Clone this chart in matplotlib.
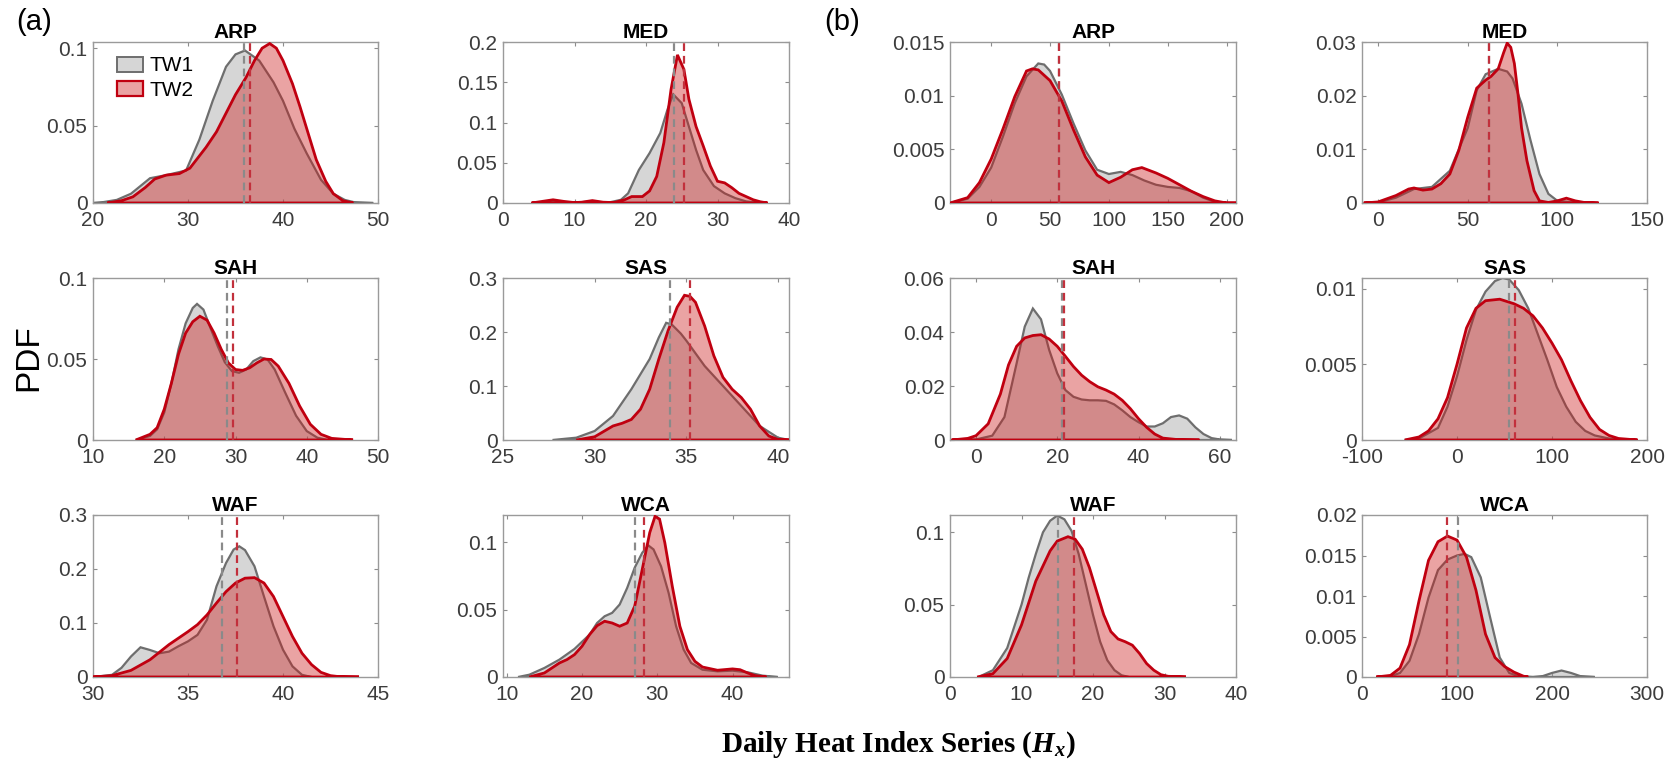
import numpy as np
import matplotlib.pyplot as plt
from matplotlib.patches import Patch
from matplotlib.ticker import FuncFormatter

plt.rcParams['font.family'] = ['Liberation Sans', 'DejaVu Sans']
plt.rcParams['mathtext.fontset'] = 'custom'
plt.rcParams['mathtext.it'] = 'Liberation Serif:italic:bold'
plt.rcParams['mathtext.rm'] = 'Liberation Serif:bold'

# kernel density curves, (Hx value, density) pairs, TW1 and TW2
# (a) regions
arp_a_tw1 = [(20, 0), (21, 0.0005), (22.5, 0.002), (24, 0.006), (25, 0.011), (26, 0.016), (27.7, 0.018),
             (29.8, 0.021), (31.2, 0.041), (32.6, 0.066), (34, 0.088), (35, 0.096), (36, 0.0985), (37.5, 0.092),
             (39, 0.078), (40, 0.066), (41.2, 0.048), (42.5, 0.032), (44, 0.015), (45.3, 0.006), (46.5, 0.002),
             (47.5, 0.0005), (49.5, 0)]
arp_a_tw2 = [(21.5, 0), (23, 0.0015), (24.2, 0.004), (25.5, 0.01), (26.5, 0.0155), (27.7, 0.018), (29.1, 0.019),
             (30.2, 0.0225), (31.9, 0.036), (33, 0.046), (34, 0.058), (35, 0.07), (36.1, 0.081), (37, 0.092),
             (37.8, 0.1), (38.6, 0.103), (39.3, 0.1), (40, 0.092), (41, 0.077), (41.8, 0.062), (42.7, 0.044),
             (43.5, 0.028), (44.5, 0.014), (45.3, 0.006), (46.3, 0.0015), (47.4, 0)]
med_a_tw1 = [(4, 0), (5.5, 0.001), (7, 0.002), (8.5, 0.001), (10, 0.0005), (11, 0.001), (12.5, 0.002), (14, 0.0008),
             (15, 0.001), (16.5, 0.004), (17.5, 0.012), (19, 0.041), (20.5, 0.062), (22, 0.087), (23, 0.116),
             (23.8, 0.135), (25, 0.124), (26, 0.095), (27, 0.066), (28, 0.041), (29.5, 0.021), (31, 0.012),
             (32.5, 0.006), (34, 0.002), (36, 0)]
med_a_tw2 = [(4, 0), (5.5, 0.002), (7, 0.004), (8.5, 0.002), (10, 0.0005), (11, 0.001), (12.5, 0.003), (14, 0.001),
             (15.5, 0.0005), (17, 0.004), (18, 0.008), (19.5, 0.008), (20.5, 0.015), (21.5, 0.033), (22.5, 0.075),
             (23.5, 0.141), (24.4, 0.184), (25.3, 0.166), (26, 0.129), (27, 0.095), (28, 0.071), (29, 0.046),
             (30, 0.027), (31, 0.025), (32, 0.019), (33, 0.012), (34, 0.008), (35, 0.004), (36, 0.0015), (37, 0)]
sah_a_tw1 = [(16, 0), (18, 0.0025), (19, 0.0066), (20, 0.017), (21, 0.035), (22, 0.056), (23, 0.072), (24, 0.0815),
             (24.6, 0.084), (25.5, 0.0805), (26.5, 0.069), (27.5, 0.058), (28.5, 0.048), (29.5, 0.0425),
             (30.5, 0.0415), (31.5, 0.0435), (32.5, 0.0487), (33.5, 0.051), (34.5, 0.0497), (35.5, 0.0435),
             (37, 0.029), (38.5, 0.015), (40, 0.0055), (41.5, 0.0014), (43, 0)]
sah_a_tw2 = [(16, 0), (18, 0.0035), (19, 0.0076), (20, 0.019), (21, 0.035), (22, 0.053), (23, 0.066), (24, 0.073),
             (25, 0.0764), (26, 0.074), (27, 0.066), (28, 0.056), (29, 0.0476), (30, 0.0435), (31, 0.043),
             (32, 0.0446), (33, 0.0476), (34, 0.05), (35, 0.0497), (36, 0.0456), (37.5, 0.035), (39, 0.021),
             (40.5, 0.0097), (42, 0.0035), (43.5, 0.001), (46.5, 0)]
sas_a_tw1 = [(27.7, 0), (29, 0.0043), (30, 0.0167), (31, 0.0445), (32, 0.094), (33, 0.15), (33.5, 0.19),
             (33.9, 0.217), (34.2, 0.214), (34.7, 0.197), (35, 0.184), (36, 0.137), (37, 0.1), (38, 0.063),
             (39, 0.026), (40, 0.0043), (40.6, 0)]
sas_a_tw2 = [(29, 0), (30, 0.006), (31, 0.026), (31.5, 0.031), (32, 0.038), (32.5, 0.057), (33, 0.094),
             (33.5, 0.15), (34, 0.202), (34.5, 0.246), (34.9, 0.268), (35.2, 0.266), (35.5, 0.255), (36, 0.211),
             (36.5, 0.156), (37, 0.116), (37.5, 0.094), (38, 0.0785), (38.5, 0.057), (39, 0.026), (39.5, 0.0074),
             (40, 0.001), (40.6, 0)]
waf_a_tw1 = [(30, 0), (31, 0.004), (31.5, 0.017), (32, 0.038), (32.5, 0.055), (33, 0.05), (33.5, 0.044),
             (34, 0.047), (34.5, 0.057), (35, 0.066), (35.5, 0.078), (36, 0.106), (36.5, 0.168), (37, 0.211),
             (37.4, 0.236), (37.7, 0.242), (38, 0.235), (38.5, 0.205), (39, 0.149), (39.5, 0.094), (40, 0.0505),
             (40.5, 0.0197), (41, 0.004), (41.5, 0)]
waf_a_tw2 = [(30, 0), (31, 0.0025), (32, 0.0123), (33, 0.032), (34, 0.06), (35, 0.084), (35.5, 0.097),
             (36, 0.115), (36.5, 0.137), (37, 0.158), (37.5, 0.174), (38, 0.183), (38.5, 0.184), (39, 0.174),
             (39.5, 0.149), (40, 0.112), (40.5, 0.075), (41, 0.044), (41.5, 0.023), (42, 0.0086), (42.5, 0.0025),
             (43, 0.0005), (44, 0)]
wca_a_tw1 = [(11.5, 0), (13, 0.0017), (15, 0.0067), (17, 0.0129), (19, 0.0208), (21, 0.0314), (22, 0.04),
             (23, 0.045), (24, 0.0475), (25, 0.0537), (26, 0.066), (27, 0.081), (28, 0.092), (28.8, 0.0975),
             (29.5, 0.0945), (30.5, 0.082), (31.5, 0.0624), (32.5, 0.0376), (33.5, 0.0203), (34.5, 0.0104),
             (36, 0.0054), (38, 0.0042), (40, 0.0047), (42, 0.0035), (44, 0.001), (46, 0)]
wca_a_tw2 = [(13, 0), (15, 0.003), (16, 0.0067), (17, 0.0104), (18, 0.0129), (19, 0.0166), (20, 0.0228),
             (21, 0.0314), (22, 0.038), (23, 0.0413), (24, 0.04), (25, 0.0376), (26, 0.04), (27, 0.0525),
             (28, 0.0797), (29, 0.107), (29.7, 0.119), (30.3, 0.117), (31, 0.0995), (32, 0.067), (33, 0.0376),
             (34, 0.0203), (35, 0.0116), (36, 0.0074), (38, 0.005), (40, 0.006), (41, 0.0054), (42, 0.003),
             (43, 0.001), (44.5, 0)]

# (b) regions
arp_b_tw1 = [(-35, 0), (-20, 0.0004), (-10, 0.0015), (0, 0.0033), (10, 0.0062), (20, 0.0093), (30, 0.0118),
             (40, 0.013), (45, 0.0129), (50, 0.0123), (60, 0.0101), (70, 0.0074), (80, 0.0049), (90, 0.0031),
             (100, 0.0027), (110, 0.0029), (120, 0.0026), (130, 0.0021), (140, 0.0017), (150, 0.0015),
             (160, 0.0014), (170, 0.0011), (180, 0.0005), (190, 0.0001), (200, 0)]
arp_b_tw2 = [(-35, 0), (-20, 0.0005), (-10, 0.0019), (0, 0.0041), (10, 0.0069), (20, 0.0099), (30, 0.0123),
             (35, 0.0125), (40, 0.0124), (50, 0.0114), (60, 0.0095), (70, 0.0068), (80, 0.0043), (90, 0.0026),
             (100, 0.0019), (110, 0.0024), (120, 0.0031), (128, 0.0033), (140, 0.0028), (150, 0.0023),
             (160, 0.0017), (170, 0.0011), (180, 0.0006), (190, 0.0002), (200, 0), (208, 0)]
med_b_tw1 = [(-8, 0), (0, 0.0001), (10, 0.001), (20, 0.0026), (30, 0.003), (40, 0.006), (50, 0.014), (55, 0.021),
             (60, 0.024), (67, 0.025), (72, 0.0245), (75, 0.0232), (80, 0.0185), (85, 0.0117), (90, 0.0054),
             (95, 0.0017), (100, 0.0004), (110, 0.0001), (120, 0)]
med_b_tw2 = [(-8, 0), (0, 0.0002), (10, 0.0014), (17, 0.0026), (20, 0.0028), (25, 0.0024), (30, 0.0026),
             (35, 0.0036), (40, 0.0054), (45, 0.0098), (50, 0.016), (55, 0.0214), (60, 0.0229), (63, 0.0236),
             (67, 0.025), (70, 0.028), (72, 0.0298), (74, 0.029), (76, 0.026), (78, 0.0204), (80, 0.014),
             (83, 0.0079), (87, 0.0023), (90, 0.0004), (95, 0.0001), (100, 0.0004), (105, 0.0009), (110, 0.0004),
             (115, 0.0001), (123, 0)]
sah_b_tw1 = [(-6, 0), (0, 0.0002), (4, 0.0016), (7, 0.0085), (10, 0.0284), (12, 0.042), (14, 0.0487),
             (16, 0.0447), (18, 0.0334), (20, 0.0247), (22, 0.0185), (24, 0.016), (26, 0.015), (28, 0.0147),
             (30, 0.0147), (32, 0.0145), (34, 0.0132), (36, 0.011), (38, 0.0085), (40, 0.0066), (42, 0.005),
             (44, 0.005), (46, 0.0062), (48, 0.0085), (50, 0.0091), (52, 0.0079), (54, 0.0047), (56, 0.0022),
             (58, 0.0007), (60, 0.0002), (63, 0)]
sah_b_tw2 = [(-6, 0), (-2, 0.0006), (0, 0.0016), (3, 0.006), (6, 0.017), (8, 0.0278), (10, 0.0347), (12, 0.0378),
             (14, 0.0387), (16, 0.039), (18, 0.0374), (20, 0.0347), (22, 0.031), (24, 0.0272), (26, 0.024),
             (28, 0.0216), (30, 0.0197), (32, 0.0185), (34, 0.017), (36, 0.0147), (38, 0.0116), (40, 0.0079),
             (42, 0.0047), (44, 0.0022), (46, 0.0007), (50, 0.0001), (55, 0)]
sas_b_tw1 = [(-55, 0), (-40, 0.0001), (-20, 0.0008), (-10, 0.0022), (0, 0.0042), (10, 0.0066), (20, 0.0086),
             (30, 0.0098), (40, 0.0105), (48, 0.0107), (55, 0.0106), (65, 0.0099), (75, 0.0087), (85, 0.007),
             (95, 0.0053), (105, 0.0035), (115, 0.0022), (125, 0.0012), (135, 0.0006), (145, 0.0003),
             (160, 0.0001), (185, 0)]
sas_b_tw2 = [(-55, 0), (-40, 0.0002), (-30, 0.0006), (-20, 0.0014), (-10, 0.0028), (0, 0.005), (10, 0.0074),
             (20, 0.0087), (30, 0.0092), (45, 0.0093), (60, 0.009), (70, 0.0087), (80, 0.0082), (90, 0.0074),
             (100, 0.0064), (110, 0.0053), (120, 0.0039), (130, 0.0026), (140, 0.0015), (150, 0.0007),
             (160, 0.0003), (170, 0.0001), (190, 0)]
waf_b_tw1 = [(4, 0), (6, 0.0047), (8, 0.02), (10, 0.05), (11, 0.0686), (12, 0.085), (13, 0.1), (14, 0.108),
             (15, 0.1116), (16, 0.109), (17, 0.101), (18, 0.085), (19, 0.064), (20, 0.043), (21, 0.0244),
             (22, 0.0116), (23, 0.0047), (24, 0.0012), (25, 0)]
waf_b_tw2 = [(3.8, 0), (6, 0.0023), (8, 0.0128), (10, 0.036), (12, 0.0663), (14, 0.0872), (15, 0.094),
             (16.5, 0.097), (17.5, 0.0953), (18.5, 0.0884), (19.5, 0.0756), (20.5, 0.0593), (21.5, 0.043),
             (22.5, 0.0314), (23.5, 0.0263), (24.5, 0.0244), (25.5, 0.022), (26.5, 0.0163), (27.5, 0.0093),
             (28.5, 0.0047), (29.5, 0.0016), (30.5, 0.0005), (33, 0)]
wca_b_tw1 = [(20, 0), (30, 0.0001), (40, 0.0005), (50, 0.002), (60, 0.0053), (70, 0.0098), (80, 0.0132),
             (90, 0.0145), (100, 0.015), (108, 0.0152), (115, 0.0148), (125, 0.0123), (135, 0.0073), (145, 0.0024),
             (155, 0.0005), (165, 0.0001), (180, 0), (190, 0.0001), (200, 0.0005), (210, 0.0008), (220, 0.0005),
             (230, 0.0001), (245, 0)]
wca_b_tw2 = [(15, 0), (30, 0.0002), (40, 0.0011), (50, 0.004), (60, 0.0094), (70, 0.0144), (80, 0.0167),
             (90, 0.0174), (100, 0.0169), (110, 0.0148), (120, 0.0107), (130, 0.0053), (140, 0.0024),
             (150, 0.0013), (160, 0.0006), (170, 0.0001), (175, 0)]

# mean Hx of TW1 / TW2 (dashed lines)
means_a = {'ARP': (35.9, 36.5), 'MED': (23.9, 25.35), 'SAH': (28.8, 29.6),
           'SAS': (34.1, 35.2), 'WAF': (36.8, 37.6), 'WCA': (27.0, 28.2)}
means_b = {'ARP': (57.3, 57.6), 'MED': (61.6, 62.0), 'SAH': (21.2, 21.6),
           'SAS': (54.4, 61.4), 'WAF': (15.06, 17.4), 'WCA': (100.7, 89.5)}

GRAY_LINE = '#6e6e6e'
GRAY_FILL = (0.62, 0.62, 0.62, 0.42)
RED_LINE = '#c00010'
RED_FILL = (0.80, 0.10, 0.10, 0.40)
TICK_COL = '#3c3c3c'
DASH = (0, (3.5, 2.2))

fig = plt.figure(figsize=(16.68, 7.69), dpi=100)
W, H = 1668, 769

col_px = [(93, 378), (503, 789), (950, 1236), (1362, 1647)]
row_px = [(42, 203), (278, 440), (515, 677)]

# name, tw1, tw2, means, xlim, xticks, ylim, yticks, (row, col)
panels = [
    ('ARP', arp_a_tw1, arp_a_tw2, means_a, (20, 50), [20, 30, 40, 50], 0.104, [0, 0.05, 0.1], 0, 0),
    ('MED', med_a_tw1, med_a_tw2, means_a, (0, 40), [0, 10, 20, 30, 40], 0.2, [0, 0.05, 0.1, 0.15, 0.2], 0, 1),
    ('ARP', arp_b_tw1, arp_b_tw2, means_b, (-35, 208), [0, 50, 100, 150, 200], 0.015, [0, 0.005, 0.01, 0.015], 0, 2),
    ('MED', med_b_tw1, med_b_tw2, means_b, (-9, 150), [0, 50, 100, 150], 0.03, [0, 0.01, 0.02, 0.03], 0, 3),
    ('SAH', sah_a_tw1, sah_a_tw2, means_a, (10, 50), [10, 20, 30, 40, 50], 0.1, [0, 0.05, 0.1], 1, 0),
    ('SAS', sas_a_tw1, sas_a_tw2, means_a, (25, 40.6), [25, 30, 35, 40], 0.3, [0, 0.1, 0.2, 0.3], 1, 1),
    ('SAH', sah_b_tw1, sah_b_tw2, means_b, (-6.4, 64), [0, 20, 40, 60], 0.06, [0, 0.02, 0.04, 0.06], 1, 2),
    ('SAS', sas_b_tw1, sas_b_tw2, means_b, (-100, 200), [-100, 0, 100, 200], 0.0107, [0, 0.005, 0.01], 1, 3),
    ('WAF', waf_a_tw1, waf_a_tw2, means_a, (30, 45), [30, 35, 40, 45], 0.3, [0, 0.1, 0.2, 0.3], 2, 0),
    ('WCA', wca_a_tw1, wca_a_tw2, means_a, (9.5, 47.5), [10, 20, 30, 40], 0.12, [0, 0.05, 0.1], 2, 1),
    ('WAF', waf_b_tw1, waf_b_tw2, means_b, (0, 40), [0, 10, 20, 30, 40], 0.112, [0, 0.05, 0.1], 2, 2),
    ('WCA', wca_b_tw1, wca_b_tw2, means_b, (0, 300), [0, 100, 200, 300], 0.02, [0, 0.005, 0.01, 0.015, 0.02], 2, 3),
]

fmt = FuncFormatter(lambda v, p: f'{v:g}')
axes = []
for name, tw1, tw2, means, xlim, xt, ytop, yt, r, c in panels:
    l, rr = col_px[c]
    t, b = row_px[r]
    ax = fig.add_axes([l / W, 1 - b / H, (rr - l) / W, (b - t) / H])
    x1, y1 = np.array(tw1).T
    x2, y2 = np.array(tw2).T
    ax.fill(x1, y1, facecolor=GRAY_FILL, edgecolor=GRAY_LINE, lw=1.6, zorder=2)
    ax.fill(x2, y2, facecolor=RED_FILL, edgecolor=RED_LINE, lw=2.0, zorder=3)
    m1, m2 = means[name]
    ax.axvline(m1, color='#8a8a8a', ls=DASH, lw=1.6, zorder=4)
    ax.axvline(m2, color='#c2303c', ls=DASH, lw=1.6, zorder=4)
    ax.set_xlim(*xlim)
    ax.set_ylim(0, ytop)
    ax.set_xticks(xt)
    ax.set_yticks(yt)
    ax.xaxis.set_major_formatter(fmt)
    ax.yaxis.set_major_formatter(fmt)
    ax.tick_params(direction='in', length=3, width=0.8, color='#8c8c8c', labelsize=15,
                   labelcolor=TICK_COL, top=True, right=True)
    ax.tick_params(axis='x', pad=6)
    ax.tick_params(axis='y', pad=4)
    for sp in ax.spines.values():
        sp.set_color('#9a9a9a')
        sp.set_linewidth(1.0)
    ax.set_title(name, fontsize=15, fontweight='bold', pad=3)
    axes.append(ax)

axes[0].legend(handles=[Patch(facecolor=GRAY_FILL, edgecolor=GRAY_LINE, lw=1.4, label='TW1'),
                        Patch(facecolor=RED_FILL, edgecolor=RED_LINE, lw=1.6, label='TW2')],
               loc='upper left', bbox_to_anchor=(0.085, 0.91), frameon=False, fontsize=15,
               handlelength=1.25, handleheight=0.75, handletextpad=0.3, labelspacing=0.25,
               borderpad=0, borderaxespad=0)

fig.text(34 / W, 1 - 22 / H, '(a)', fontsize=21, ha='center', va='center')
fig.text(842 / W, 1 - 22 / H, '(b)', fontsize=21, ha='center', va='center')
fig.text(29 / W, 1 - 358 / H, 'PDF', fontsize=24, rotation=90, ha='center', va='center')
fig.text(898 / W, 1 - 752 / H, r'Daily Heat Index Series ($\mathit{H}_\mathit{x}$)',
         family='Liberation Serif', fontweight='bold', fontsize=21, ha='center', va='baseline')

fig.savefig('out.png', dpi=100)
